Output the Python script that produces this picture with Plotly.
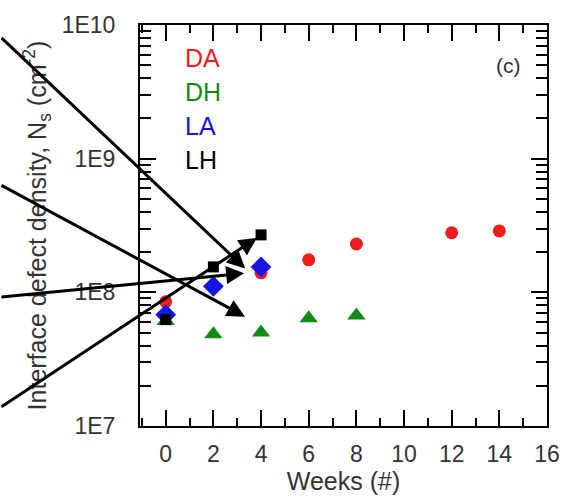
import math
import plotly.graph_objects as go

weeks_DA = [0, 4, 6, 8, 12, 14]
ns_DA = [8.5e7, 1.40e8, 1.75e8, 2.30e8, 2.79e8, 2.88e8]
weeks_DH = [0, 2, 4, 6, 8]
ns_DH = [6.1e7, 4.85e7, 5.0e7, 6.4e7, 6.7e7]
weeks_LA = [0, 2, 4]
ns_LA = [6.8e7, 1.11e8, 1.55e8]
weeks_LH = [0, 2, 4]
ns_LH = [6.25e7, 1.55e8, 2.69e8]

y_tickvals = [1e7, 1e8, 1e9, 1e10]
y_ticktext = ["1E7", "1E8", "1E9", "1E10"]
y_minorvals = [m * 10 ** d for d in (7, 8, 9) for m in range(2, 10)]
x_tickvals = [0, 2, 4, 6, 8, 10, 12, 14, 16]

series = [
    ("DA", weeks_DA, ns_DA, "#ee1c1c", "circle", 13),
    ("DH", weeks_DH, ns_DH, "#138a13", "triangle-up", 16),
    ("LA", weeks_LA, ns_LA, "#1515e0", "diamond", 16),
    ("LH", weeks_LH, ns_LH, "#000000", "square", 11),
]

# arrow tips (data coords) and tail offsets (pixels)
arrows = [
    (3.33, 1.51e8, -246, -232),
    (3.33, 6.58e7, -246, -132),
    (3.29, 1.39e8, -245, 24),
    (3.83, 2.56e8, -258, 170),
]

fig = go.Figure()
for name, xs, ys, col, sym, sz in series:
    fig.add_trace(go.Scatter(x=xs, y=ys, mode="markers", name=name,
                             marker=dict(color=col, symbol=sym, size=sz, line=dict(width=0))))

txt = "#333333"
font = "Liberation Sans, Arial, sans-serif"

ann = []
for i, (name, xs, ys, col, sym, sz) in enumerate(series):
    ann.append(dict(text=name, xref="paper", yref="paper", x=0.105, y=0.918 - i * 0.085,
                    xanchor="left", yanchor="middle", showarrow=False,
                    font=dict(size=25, color=col, family=font)))
ann.append(dict(text="(c)", xref="paper", yref="paper", x=0.905, y=0.898,
                xanchor="center", yanchor="middle", showarrow=False,
                font=dict(size=21, color=txt, family=font)))
for (x, y, ax, ay) in arrows:
    ann.append(dict(x=x, y=math.log10(y), xref="x", yref="y", ax=ax, ay=ay,
                    axref="pixel", ayref="pixel",
                    text="", showarrow=True, arrowhead=2, arrowsize=1.2, arrowwidth=3,
                    arrowcolor="black"))

fig.update_layout(
    width=584, height=500,
    margin=dict(l=140, r=37, t=21, b=73),
    paper_bgcolor="white", plot_bgcolor="white",
    showlegend=False,
    font=dict(family=font, size=23, color=txt),
    annotations=ann,
    xaxis=dict(range=[-1.08, 16], tickvals=x_tickvals, ticks="inside", ticklen=16, tickwidth=2,
               tickcolor="black", showline=True, linecolor="black", linewidth=2, mirror="ticks",
               showgrid=False, zeroline=False,
               minor=dict(ticks="inside", ticklen=8, tickwidth=2, tickcolor="black", dtick=1,
                          tick0=1, showgrid=False),
               title=dict(text="Weeks (#)", font=dict(size=25, color=txt), standoff=4),
               tickfont=dict(size=23, color=txt), ticklabelstandoff=6),
    yaxis=dict(type="log", range=[7, 10], tickvals=y_tickvals, ticktext=y_ticktext,
               ticks="inside", ticklen=16, tickwidth=2, tickcolor="black",
               showline=True, linecolor="black", linewidth=2, mirror="ticks",
               showgrid=False, zeroline=False,
               minor=dict(ticks="inside", ticklen=11, tickwidth=2, tickcolor="black",
                          tickvals=y_minorvals, showgrid=False),
               title=dict(text="Interface defect density, N<sub>s</sub> (cm<sup>-2</sup>)",
                          font=dict(size=25, color=txt), standoff=8),
               tickfont=dict(size=23, color=txt), ticklabelstandoff=18),
)

fig.write_html("out.html")
